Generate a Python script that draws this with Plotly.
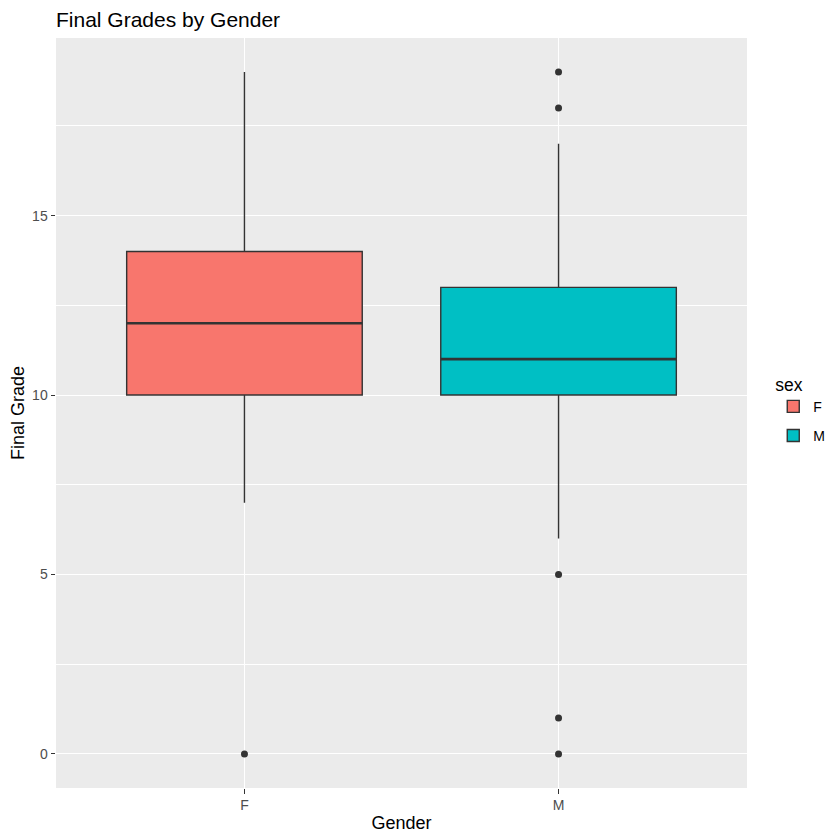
import plotly.graph_objects as go

categories = ["F", "M"]
q1 = [10, 10]
median = [12, 11]
q3 = [14, 13]
lower_whisker = [7, 6]
upper_whisker = [19, 17]
outliers = {"F": [0], "M": [19, 18, 5, 1, 0]}
fill_colors = ["#F8766D", "#00BFC4"]

BOX_W = 0.75
xs = list(range(len(categories)))

fig = go.Figure()
for i, cat in enumerate(categories):
    fig.add_trace(go.Box(
        x=[xs[i]], q1=[q1[i]], median=[median[i]], q3=[q3[i]],
        lowerfence=[lower_whisker[i]], upperfence=[upper_whisker[i]],
        width=BOX_W, name=cat, fillcolor=fill_colors[i],
        line=dict(color="#333333", width=1.4), whiskerwidth=0,
        boxpoints=False, hoverinfo="skip", legendgroup=cat,
    ))
    # thicker median line, as in ggplot
    fig.add_trace(go.Scatter(
        x=[xs[i] - BOX_W / 2, xs[i] + BOX_W / 2], y=[median[i], median[i]],
        mode="lines", line=dict(color="#333333", width=2.6),
        showlegend=False, hoverinfo="skip", legendgroup=cat,
    ))
    pts = outliers[cat]
    fig.add_trace(go.Scatter(
        x=[xs[i]] * len(pts), y=pts, mode="markers",
        marker=dict(color="#333333", size=7),
        showlegend=False, hoverinfo="skip", legendgroup=cat,
    ))

fig.update_layout(
    width=840, height=840,
    margin=dict(l=48, r=101, t=30, b=60),
    paper_bgcolor="white", plot_bgcolor="#EBEBEB",
    boxmode="overlay",
    font=dict(family="Liberation Sans, Arial, sans-serif", color="black"),
    title=dict(text="Final Grades by Gender", x=48 / 840, xanchor="left",
               y=1 - 12 / 840, yanchor="middle",
               font=dict(size=21, color="black")),
    legend=dict(title=dict(text="sex", font=dict(size=17.5)),
                x=1.038, xanchor="left", y=0.56, yanchor="top",
                font=dict(size=14), bgcolor="rgba(0,0,0,0)",
                traceorder="grouped", tracegroupgap=8),
    showlegend=True,
)
fig.update_xaxes(
    range=[-0.6, len(categories) - 1 + 0.6],
    tickmode="array", tickvals=xs, ticktext=categories,
    showgrid=True, gridcolor="white", gridwidth=1.4, zeroline=False,
    ticks="outside", ticklen=4.5, tickcolor="#333333", tickwidth=1.1,
    tickfont=dict(size=14, color="#4D4D4D"),
    title=dict(text="Gender", font=dict(size=18), standoff=4),
    showline=False, automargin=False,
)
fig.update_yaxes(
    range=[-0.95, 19.95],
    tickvals=[0, 5, 10, 15],
    showgrid=True, gridcolor="white", gridwidth=1.4, zeroline=False,
    minor=dict(tickvals=[2.5, 7.5, 12.5, 17.5], showgrid=True,
               gridcolor="white", gridwidth=0.7),
    ticks="outside", ticklen=4.5, tickcolor="#333333", tickwidth=1.1,
    tickfont=dict(size=14, color="#4D4D4D"),
    title=dict(text="Final Grade", font=dict(size=18), standoff=7),
    showline=False, automargin=False,
)

fig.write_html("out.html")
